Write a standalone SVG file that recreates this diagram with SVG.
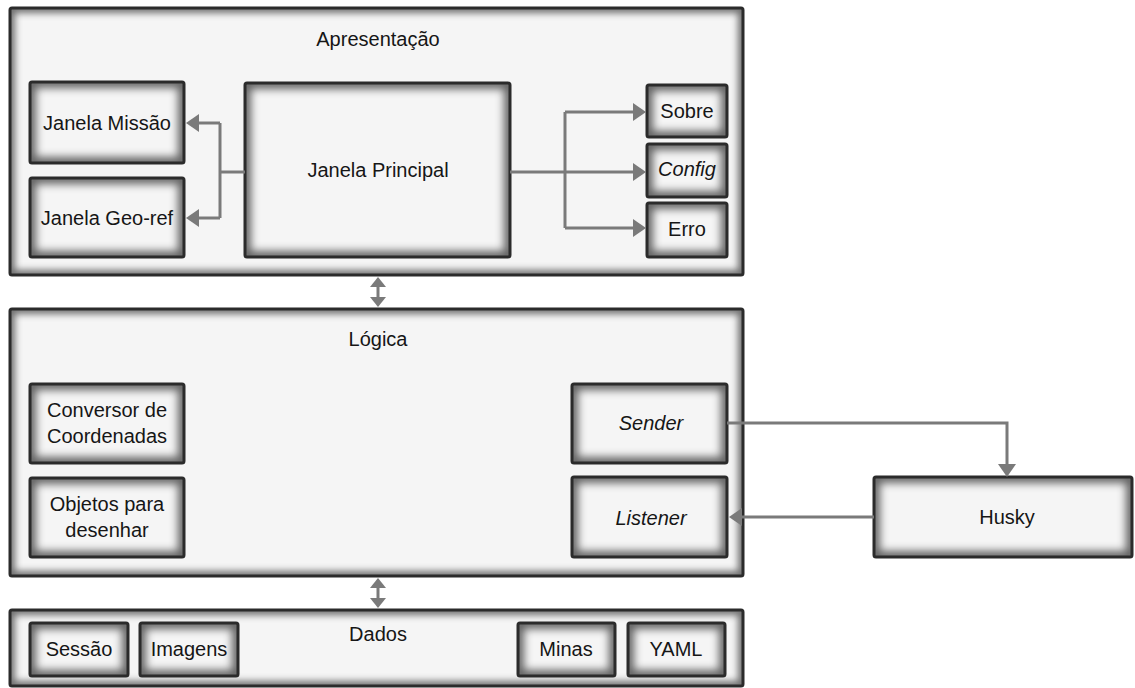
<svg xmlns="http://www.w3.org/2000/svg" width="1135" height="688" viewBox="0 0 1135 688">
  <defs>
    <style>
      .box { fill: #f5f5f5; }
      .rim { fill: none; stroke: #000; clip-path: url(#self); }
      .rimBig { stroke-opacity: 0.55; stroke-width: 10; filter: url(#soft); }
      .rimSmall { stroke-opacity: 0.6; stroke-width: 12; filter: url(#hard); }
      .edge { fill: none; stroke: #2b2b2b; stroke-width: 3; }
      .t { font-family: "Liberation Sans", Arial, sans-serif; font-size: 20px; fill: #161616; text-anchor: middle; }
      .i { font-style: italic; }
      .wire { fill: none; stroke: #7a7a7a; stroke-width: 3; }
    </style>
    <!-- clip each blurred rim to its own rectangle -->
    <clipPath id="self" clipPathUnits="objectBoundingBox"><rect width="1" height="1"/></clipPath>
    <filter id="soft" x="-20%" y="-20%" width="140%" height="140%">
      <feGaussianBlur stdDeviation="3.5"/>
    </filter>
    <filter id="hard" x="-30%" y="-40%" width="160%" height="180%">
      <feGaussianBlur stdDeviation="4.5"/>
    </filter>
    <marker id="head" viewBox="0 0 13 18" refX="0" refY="9" markerWidth="13" markerHeight="18" markerUnits="userSpaceOnUse" orient="auto-start-reverse">
      <path d="M0 0 L13 9 L0 18 Z" fill="#7a7a7a"/>
    </marker>
    <marker id="headS" viewBox="0 0 10 16" refX="0" refY="8" markerWidth="10" markerHeight="16" markerUnits="userSpaceOnUse" orient="auto-start-reverse">
      <path d="M0 0 L10 8 L0 16 Z" fill="#7a7a7a"/>
    </marker>
  </defs>

  <rect width="1135" height="688" fill="#ffffff"/>

  <!-- Layers -->
  <g id="apresentacao">
    <rect class="box" x="10" y="8" width="733" height="267"/>
    <rect class="rim rimBig" x="10" y="8" width="733" height="267"/>
    <rect class="edge" x="10" y="8" width="733" height="267" rx="2"/>
    <text class="t" x="378" y="46">Apresentação</text>
  </g>
  <g id="logica">
    <rect class="box" x="10" y="309" width="733" height="267"/>
    <rect class="rim rimBig" x="10" y="309" width="733" height="267"/>
    <rect class="edge" x="10" y="309" width="733" height="267" rx="2"/>
    <text class="t" x="378" y="346">Lógica</text>
  </g>
  <g id="dados">
    <rect class="box" x="10" y="610" width="733" height="76"/>
    <rect class="rim rimBig" x="10" y="610" width="733" height="76"/>
    <rect class="edge" x="10" y="610" width="733" height="76" rx="2"/>
    <text class="t" x="378" y="641">Dados</text>
  </g>

  <!-- Presentation components -->
  <g id="janela-missao">
    <rect class="box" x="30" y="82" width="154" height="81"/>
    <rect class="rim rimSmall" x="30" y="82" width="154" height="81"/>
    <rect class="edge" x="30" y="82" width="154" height="81" rx="2"/>
    <text class="t" x="107" y="130">Janela Missão</text>
  </g>
  <g id="janela-georef">
    <rect class="box" x="30" y="178" width="154" height="79"/>
    <rect class="rim rimSmall" x="30" y="178" width="154" height="79"/>
    <rect class="edge" x="30" y="178" width="154" height="79" rx="2"/>
    <text class="t" x="107" y="225">Janela Geo-ref</text>
  </g>
  <g id="janela-principal">
    <rect class="box" x="245" y="83" width="265" height="174"/>
    <rect class="rim rimSmall" x="245" y="83" width="265" height="174"/>
    <rect class="edge" x="245" y="83" width="265" height="174" rx="2"/>
    <text class="t" x="378" y="177">Janela Principal</text>
  </g>
  <g id="sobre">
    <rect class="box" x="647" y="85" width="80" height="52"/>
    <rect class="rim rimSmall" x="647" y="85" width="80" height="52"/>
    <rect class="edge" x="647" y="85" width="80" height="52" rx="2"/>
    <text class="t" x="687" y="118">Sobre</text>
  </g>
  <g id="config">
    <rect class="box" x="647" y="144" width="80" height="53"/>
    <rect class="rim rimSmall" x="647" y="144" width="80" height="53"/>
    <rect class="edge" x="647" y="144" width="80" height="53" rx="2"/>
    <text class="t i" x="687" y="176">Config</text>
  </g>
  <g id="erro">
    <rect class="box" x="647" y="203" width="80" height="54"/>
    <rect class="rim rimSmall" x="647" y="203" width="80" height="54"/>
    <rect class="edge" x="647" y="203" width="80" height="54" rx="2"/>
    <text class="t" x="687" y="236">Erro</text>
  </g>

  <!-- Logic components -->
  <g id="conversor">
    <rect class="box" x="30" y="384" width="154" height="79"/>
    <rect class="rim rimSmall" x="30" y="384" width="154" height="79"/>
    <rect class="edge" x="30" y="384" width="154" height="79" rx="2"/>
    <text class="t" x="107" y="417">Conversor de</text>
    <text class="t" x="107" y="443">Coordenadas</text>
  </g>
  <g id="objetos">
    <rect class="box" x="30" y="478" width="154" height="79"/>
    <rect class="rim rimSmall" x="30" y="478" width="154" height="79"/>
    <rect class="edge" x="30" y="478" width="154" height="79" rx="2"/>
    <text class="t" x="107" y="511">Objetos para</text>
    <text class="t" x="107" y="537">desenhar</text>
  </g>
  <g id="sender">
    <rect class="box" x="572" y="384" width="155" height="79"/>
    <rect class="rim rimSmall" x="572" y="384" width="155" height="79"/>
    <rect class="edge" x="572" y="384" width="155" height="79" rx="2"/>
    <text class="t i" x="651" y="430">Sender</text>
  </g>
  <g id="listener">
    <rect class="box" x="572" y="477" width="155" height="80"/>
    <rect class="rim rimSmall" x="572" y="477" width="155" height="80"/>
    <rect class="edge" x="572" y="477" width="155" height="80" rx="2"/>
    <text class="t i" x="651" y="525">Listener</text>
  </g>

  <!-- External robot -->
  <g id="husky">
    <rect class="box" x="874" y="477" width="258" height="80"/>
    <rect class="rim rimSmall" x="874" y="477" width="258" height="80"/>
    <rect class="edge" x="874" y="477" width="258" height="80" rx="2"/>
    <text class="t" x="1007" y="524">Husky</text>
  </g>

  <!-- Data components -->
  <g id="sessao">
    <rect class="box" x="30" y="623" width="98" height="53"/>
    <rect class="rim rimSmall" x="30" y="623" width="98" height="53"/>
    <rect class="edge" x="30" y="623" width="98" height="53" rx="2"/>
    <text class="t" x="79" y="656">Sessão</text>
  </g>
  <g id="imagens">
    <rect class="box" x="140" y="623" width="98" height="53"/>
    <rect class="rim rimSmall" x="140" y="623" width="98" height="53"/>
    <rect class="edge" x="140" y="623" width="98" height="53" rx="2"/>
    <text class="t" x="189" y="656">Imagens</text>
  </g>
  <g id="minas">
    <rect class="box" x="518" y="623" width="97" height="53"/>
    <rect class="rim rimSmall" x="518" y="623" width="97" height="53"/>
    <rect class="edge" x="518" y="623" width="97" height="53" rx="2"/>
    <text class="t" x="566" y="656">Minas</text>
  </g>
  <g id="yaml">
    <rect class="box" x="628" y="623" width="97" height="53"/>
    <rect class="rim rimSmall" x="628" y="623" width="97" height="53"/>
    <rect class="edge" x="628" y="623" width="97" height="53" rx="2"/>
    <text class="t" x="676" y="656">YAML</text>
  </g>

  <!-- Connectors -->
  <g id="connectors">
    <!-- Janela Principal to the side windows -->
    <path class="wire" d="M245 172 H220"/>
    <path class="wire" d="M220 123 V218"/>
    <path class="wire" d="M220 123 H199" marker-end="url(#head)"/>
    <path class="wire" d="M220 218 H199" marker-end="url(#head)"/>
    <!-- Janela Principal to the dialogs -->
    <path class="wire" d="M510 172 H633" marker-end="url(#head)"/>
    <path class="wire" d="M565 112 V228"/>
    <path class="wire" d="M565 112 H633" marker-end="url(#head)"/>
    <path class="wire" d="M565 228 H633" marker-end="url(#head)"/>
    <!-- between layers -->
    <path class="wire" d="M378 287 V297" marker-start="url(#headS)" marker-end="url(#headS)"/>
    <path class="wire" d="M378 588 V598" marker-start="url(#headS)" marker-end="url(#headS)"/>
    <!-- robot link -->
    <path class="wire" d="M727 423 H1007 V464" marker-end="url(#head)"/>
    <path class="wire" d="M874 517 H742" marker-end="url(#head)"/>
  </g>
</svg>
